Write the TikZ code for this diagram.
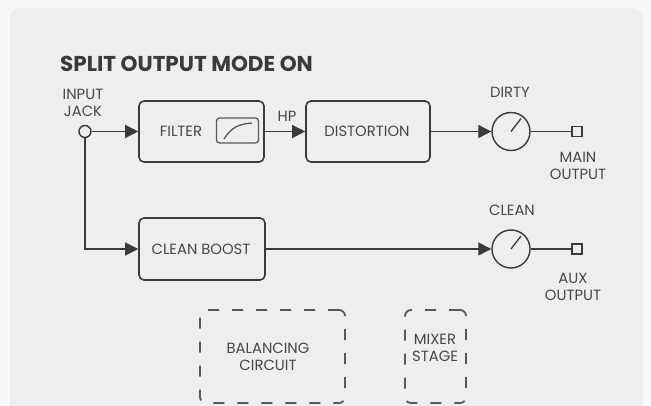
\documentclass[tikz,border=0pt]{standalone}
\usepackage{fontspec}
\setmainfont{Poppins}
\usetikzlibrary{arrows.meta}
\definecolor{bgout}{HTML}{F8F8F8}
\definecolor{panel}{HTML}{EEEEEE}
\definecolor{ink}{HTML}{3A3A3A}
\definecolor{txt}{HTML}{474747}
\begin{document}
\begin{tikzpicture}[x=1pt,y=-1pt,
  blk/.style={draw=ink, line width=1.6pt, rounded corners=5pt, fill=panel, inner sep=0pt},
  lbl/.style={text=txt, font=\fontsize{14.8}{17}\selectfont, align=center, inner sep=0pt},
  wire/.style={draw=ink, line width=1.3pt},
  arr/.style={wire, -{Triangle[length=13pt,width=13pt]}},
  knob/.style={circle, draw=ink, line width=1.4pt, minimum size=38pt, inner sep=0pt, fill=panel},
  port/.style={draw=ink, line width=1.3pt, minimum size=10pt, inner sep=0pt, fill=panel},
  dbox/.style={draw=ink!85, line width=1.8pt, dash pattern=on 11pt off 13pt, rounded corners=6pt, inner sep=0pt}]
\useasboundingbox (0,0) rectangle (651,406);
\clip (0,0) rectangle (651,406);
\fill[bgout] (0,0) rectangle (651,406);
\fill[panel, rounded corners=10pt] (10,8) rectangle (643,440);

% title
\node[anchor=base west, text=ink, font=\bfseries\fontsize{21.5}{25}\selectfont, inner sep=0pt] (title) at (60,72) {SPLIT OUTPUT MODE ON};

% input jack
\node[circle, draw=ink, line width=1.4pt, minimum size=12pt, inner sep=0pt, fill=panel] (jack) at (85,131.5) {};
\node[lbl] (jacklbl) at (83,103) {INPUT\\JACK};

% blocks
\node[blk, minimum width=125pt, minimum height=61pt] (filter) at (201.5,131.5) {};
\node[lbl] (filtertxt) at (181,131.5) {FILTER};
\node[draw=ink!85, line width=1.3pt, rounded corners=3pt, minimum width=42pt, minimum height=25pt, inner sep=0pt] (icon) at (237.5,130.5) {};
\draw[ink!85, line width=1.3pt] (224,139) .. controls (231,128) and (238,124) .. (252,123);

\node[blk, minimum width=124pt, minimum height=61pt] (dist) at (368,131.5) {};
\node[lbl] (disttxt) at (367,131.5) {DISTORTION};
\node[lbl] (hp) at (287,116) {HP};

\node[blk, minimum width=126pt, minimum height=62pt] (boost) at (202,249) {};
\node[lbl] (boosttxt) at (201,249) {CLEAN BOOST};

% knobs
\node[knob] (k1) at (511,131.5) {};
\draw[wire] (k1.center) -- ++(10,-13);
\node[lbl] (dirty) at (510,92) {DIRTY};
\node[port] (out1) at (577,131.5) {};
\node[lbl] (mainout) at (578,166) {MAIN\\OUTPUT};

\node[knob] (k2) at (511,249) {};
\draw[wire] (k2.center) -- ++(10,-13);
\node[lbl] (clean) at (512,210) {CLEAN};
\node[port] (out2) at (577,249) {};
\node[lbl] (auxout) at (573,287) {AUX\\OUTPUT};

% connectors
\draw[arr] (jack.east) -- (filter.west);
\draw[arr] (filter.east) -- (dist.west);
\draw[arr] (dist.east) -- (k1.west);
\draw[wire] (k1.east) -- (out1.west);
\draw[arr] (jack.south) |- (boost.west);
\draw[arr] (boost.east) -- (k2.west);
\draw[wire] (k2.east) -- (out2.west);

% dashed stages
\node[dbox, minimum width=145pt, minimum height=93pt] (bal) at (272.5,356.5) {};
\node[lbl] (baltxt) at (268,357) {BALANCING\\CIRCUIT};
\node[dbox, minimum width=61pt, minimum height=93pt] (mix) at (435.5,356.5) {};
\node[lbl] (mixtxt) at (435,348) {MIXER\\STAGE};
\end{tikzpicture}
\end{document}
